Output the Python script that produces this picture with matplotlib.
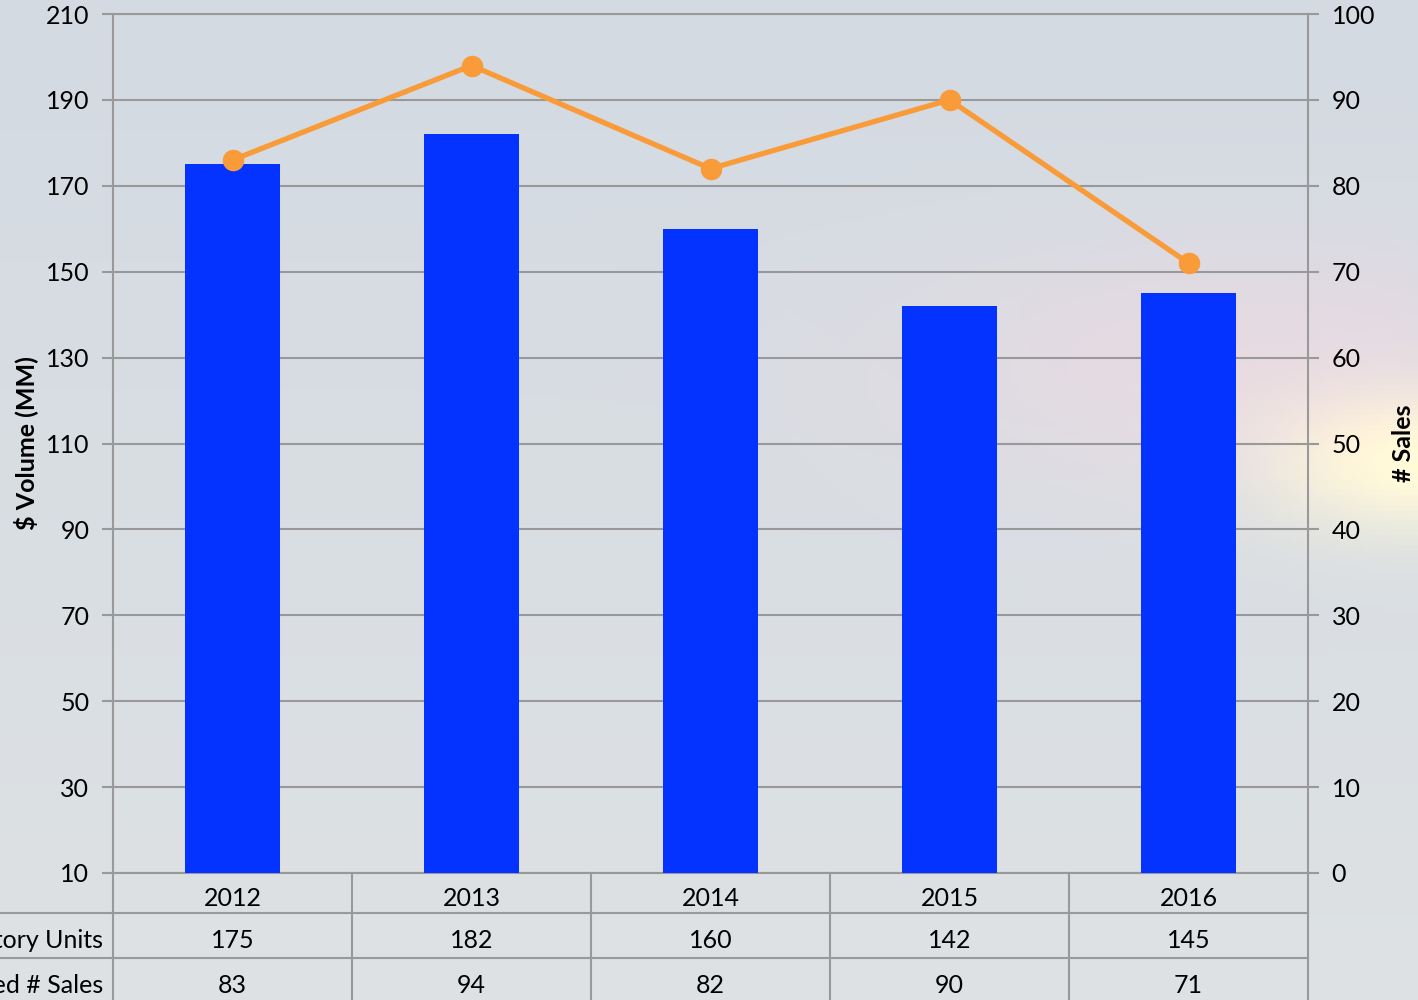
import numpy as np
import matplotlib.pyplot as plt

years = ['2012', '2013', '2014', '2015', '2016']
inventory_units = [175, 182, 160, 142, 145]
closed_sales = [83, 94, 82, 90, 71]
row_labels = ['Inventory Units', 'Closed # Sales']

plt.rcParams['font.family'] = ['Lato', 'DejaVu Sans']

fig = plt.figure(figsize=(14.18, 10), dpi=100)

# sky-like background
bg = fig.add_axes([0, 0, 1, 1])
h, w = 200, 284
yy, xx = np.mgrid[0:h, 0:w]
base = np.zeros((h, w, 3))
base[..., 0] = 0.83 + 0.04 * (yy / h)
base[..., 1] = 0.855 + 0.03 * (yy / h)
base[..., 2] = 0.885 + 0.01 * (yy / h)
glow = np.exp(-(((xx - 284) / 30.0) ** 2 + ((yy - 92) / 14.0) ** 2))
base[..., 0] += 0.15 * glow
base[..., 1] += 0.12 * glow
base[..., 2] -= 0.04 * glow
pink = np.exp(-(((xx - 250) / 70.0) ** 2 + ((yy - 72) / 25.0) ** 2))
base[..., 0] += 0.06 * pink
base[..., 1] -= 0.01 * pink
bg.imshow(np.clip(base, 0, 1), aspect='auto', extent=[0, 1, 0, 1])
bg.axis('off')

ax = fig.add_axes([113 / 1418, 1 - 873 / 1000, 1195 / 1418, 859 / 1000])
ax.patch.set_alpha(0)
x = np.arange(len(years))
ax.bar(x, inventory_units, width=0.4, color='#0433FF', bottom=0, zorder=3)
ax.set_xlim(-0.5, len(years) - 0.5)
ax.set_ylim(10, 210)
ax.set_yticks(range(10, 211, 20))
ax.set_xticks([])
ax.grid(axis='y', color='#999999', lw=1.5, zorder=0)
for s in ax.spines.values():
    s.set_color('#999999')
    s.set_linewidth(1.5)
ax.tick_params(axis='y', colors='#999999', labelcolor='black', labelsize=18,
               length=8, width=1.5, pad=9)
ax.set_ylabel('$ Volume (MM)', fontsize=18, fontweight='bold')
ax.yaxis.set_label_coords(-0.063, 0.5)

ax2 = ax.twinx()
ax2.plot(x, closed_sales, color='#F99B38', lw=3.8, marker='o', markersize=14.5, zorder=4)
ax2.set_ylim(0, 100)
ax2.set_yticks(range(0, 101, 10))
for s in ax2.spines.values():
    s.set_visible(False)
ax2.tick_params(axis='y', colors='#999999', labelcolor='black', labelsize=18,
                length=8, width=1.5, pad=9)
ax2.set_ylabel('# Sales', fontsize=18, fontweight='bold', rotation=90)
ax2.yaxis.set_label_coords(1.07, 0.5)

# data table below the plot
trans = ax.get_xaxis_transform()
row_h = [(873, 913), (913, 958), (958, 1003)]
def fy(px):
    return 1 - px / 1000
for xb in np.arange(-0.5, len(years), 1.0):
    ax.plot([xb, xb], [0, -(1003 - 873) / 859], transform=trans, color='#999999',
            lw=1.5, clip_on=False)
for ypx in (913, 958):
    fig.add_artist(plt.Line2D([0, 1308 / 1418], [fy(ypx), fy(ypx)], color='#999999', lw=1.5))
rows = [years, [str(v) for v in inventory_units], [str(v) for v in closed_sales]]
for r, (y0, y1) in enumerate(row_h):
    yc = fy((y0 + y1) / 2 + 5)
    for i, txt in enumerate(rows[r]):
        xf = (113 + (i + 0.5) * 239) / 1418
        fig.text(xf, yc, txt, ha='center', va='center', fontsize=18)
    if r > 0:
        fig.text(103 / 1418, yc, row_labels[r - 1], ha='right', va='center', fontsize=18)

fig.savefig('out.png', dpi=100)
